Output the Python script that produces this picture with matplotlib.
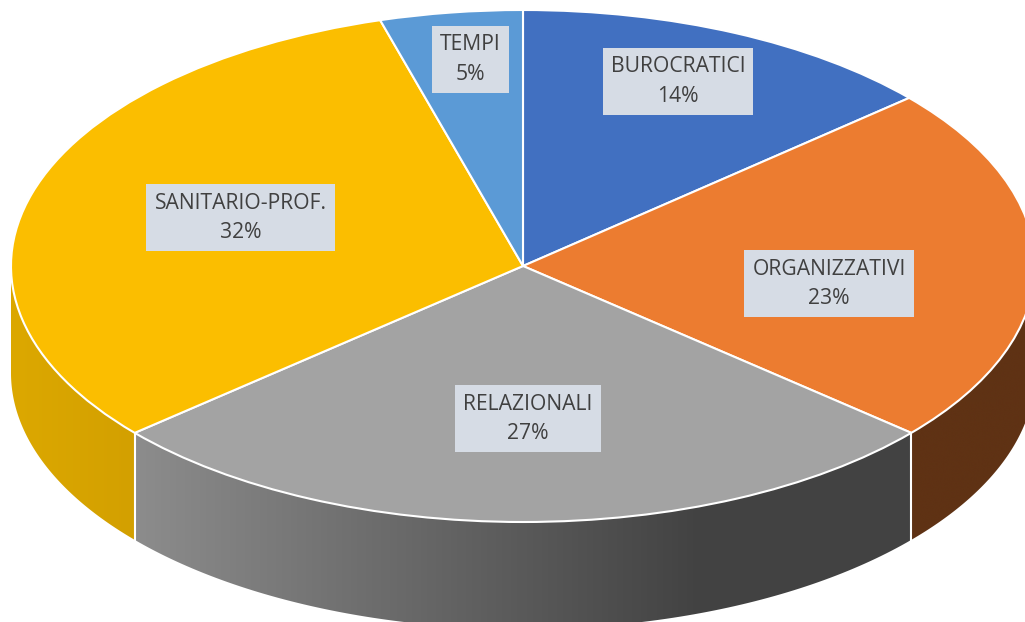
import numpy as np
import matplotlib
matplotlib.use('Agg')
import matplotlib.pyplot as plt
from matplotlib.colors import LinearSegmentedColormap
from matplotlib.patches import Polygon

plt.rcParams['font.family'] = ['Open Sans', 'DejaVu Sans']

# dati (i valori sotto sono stimati dagli angoli delle fette)
categorie = ['BUROCRATICI', 'ORGANIZZATIVI', 'RELAZIONALI', 'SANITARIO-PROF.', 'TEMPI']
valori = [13.6, 22.7, 27.4, 31.8, 4.5]
percentuali = ['14%', '23%', '27%', '32%', '5%']
colori = ['#4170C1', '#EC7C30', '#A3A3A3', '#FBBE00', '#5B9AD6']

# geometria in pixel
W, H = 1025, 622
CX, CY, RX, RY = 523, 266, 512, 256
PROF = 107 / RY

# centro delle etichette in pixel
pos_etichette = [(678, 81.5), (829, 283.5), (528, 418.5), (240.5, 217.5), (470.5, 59.5)]

fig = plt.figure(figsize=(W / 100, H / 100), dpi=100)
ax = fig.add_axes([0, 0, 1, 1])

wedges, _ = ax.pie(valori, colors=colori, startangle=90, counterclock=False, radius=1,
                   wedgeprops={'edgecolor': 'white', 'linewidth': 1.5, 'zorder': 3})

# il disco unitario diventa un'ellisse
ax.set_aspect('auto')

# fianchi: solo le fette nella meta' bassa del disco
fianchi = {
    1: [(0, '#5F3214'), (1, '#5F3214')],
    # il grigio arriva al piu' scuro verso x=700px poi resta piatto
    2: [(0, '#8C8C8C'), (0.73, '#424242'), (1, '#424242')],
    3: [(0, '#DCA800'), (1, '#D3A000')],
}
limiti = np.cumsum([0] + valori) / sum(valori) * 360
for i, cols in fianchi.items():
    a0 = np.radians(max(limiti[i], 90))
    a1 = np.radians(min(limiti[i + 1], 270))
    t = np.linspace(a0, a1, 120)
    x, y = np.sin(t), np.cos(t)
    bordo = np.vstack([np.column_stack([x, y]),
                       np.column_stack([x[::-1], y[::-1] - PROF])])
    poly = Polygon(bordo, closed=True, facecolor='none', edgecolor='none')
    ax.add_patch(poly)
    cmap = LinearSegmentedColormap.from_list('g', cols)
    grad = np.linspace(0, 1, 256).reshape(1, -1)
    im = ax.imshow(grad, cmap=cmap, extent=[x.min(), x.max(), y.min() - PROF, y.max()],
                   aspect='auto', zorder=1, interpolation='bilinear')
    im.set_clip_path(poly)

# imshow cambia i limiti, quindi li fisso alla fine
ax.set_xlim(-CX / RX, (W - CX) / RX)
ax.set_ylim((CY - H) / RY, CY / RY)

# linee bianche verticali tra i fianchi
for ang in limiti[2:4]:
    t = np.radians(ang)
    ax.plot([np.sin(t)] * 2, [np.cos(t), np.cos(t) - PROF], color='white', lw=1.5, zorder=2)

for nome, perc, (px, py) in zip(categorie, percentuali, pos_etichette):
    ax.text((px - CX) / RX, (CY - py) / RY, nome + '\n' + perc, ha='center', va='center',
            fontsize=15.2, color='#404040', linespacing=1.5, zorder=5,
            bbox={'boxstyle': 'square,pad=0.38', 'facecolor': '#D6DCE5', 'edgecolor': 'none'})

fig.savefig('out.png', dpi=100)
